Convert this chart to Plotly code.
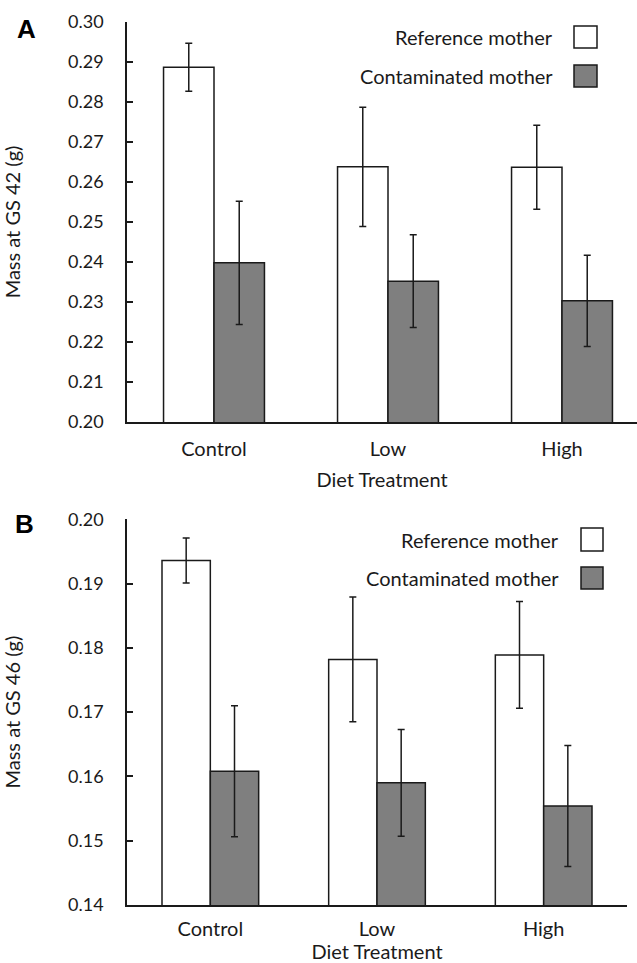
import plotly.graph_objects as go
from plotly.subplots import make_subplots

categories = ["Control", "Low", "High"]
series_names = ["Reference mother", "Contaminated mother"]

# Panel A: Mass at GS 42 (g)
a_ref = [0.2887, 0.2638, 0.2637]
a_ref_err = [0.0060, 0.0149, 0.0105]
a_con = [0.2398, 0.2352, 0.2303]
a_con_err = [0.0154, 0.0116, 0.0114]

# Panel B: Mass at GS 46 (g)
b_ref = [0.1936, 0.1782, 0.1789]
b_ref_err = [0.0035, 0.0097, 0.0083]
b_con = [0.1608, 0.1590, 0.1554]
b_con_err = [0.0102, 0.0083, 0.0094]

a_ticks = [0.20, 0.21, 0.22, 0.23, 0.24, 0.25, 0.26, 0.27, 0.28, 0.29, 0.30]
b_ticks = [0.14, 0.15, 0.16, 0.17, 0.18, 0.19, 0.20]

FONT = "Lato"
FS = 20
TFS = 18
INK = "#1a1a1a"
GREY = "#7f7f7f"

fig = make_subplots(rows=2, cols=1, vertical_spacing=0.0)

def add_panel(row, ref, ref_err, con, con_err):
    for name, vals, errs, fill in [
        (series_names[0], ref, ref_err, "white"),
        (series_names[1], con, con_err, GREY),
    ]:
        fig.add_trace(go.Bar(
            x=categories, y=vals, name=name, showlegend=False,
            marker=dict(color=fill, line=dict(color=INK, width=1.5)),
            error_y=dict(type="data", array=errs, visible=True,
                         color=INK, thickness=1.5, width=3.5),
        ), row=row, col=1)

add_panel(1, a_ref, a_ref_err, a_con, a_con_err)
add_panel(2, b_ref, b_ref_err, b_con, b_con_err)

W, H = 637, 963
L, R, T, B = 127, 0, 22, 58
PW = W - L - R
PH = H - T - B

yA = [(905 - 422) / PH, 1.0]
yB = [0.0, (905 - 519.3) / PH]

axis_common = dict(showline=True, linecolor=INK, linewidth=1.5, showgrid=False,
                   zeroline=False, mirror=False)

fig.update_layout(
    width=W, height=H,
    margin=dict(l=L, r=R, t=T, b=B),
    plot_bgcolor="white", paper_bgcolor="white",
    barmode="group", bargap=0.42, bargroupgap=0.0,
    font=dict(family=FONT, size=FS, color=INK),
    showlegend=False,
    xaxis=dict(domain=[0, 1], range=[-0.5, -0.5 + PW / 174.0], ticks="",
               ticklabelstandoff=8, tickfont=dict(size=FS),
               title=dict(text="Diet Treatment", standoff=14, font=dict(size=FS)),
               **axis_common),
    xaxis2=dict(domain=[0, 500 / PW], range=[-0.5, 2.5], ticks="",
                ticklabelstandoff=5, tickfont=dict(size=FS),
                title=dict(text="Diet Treatment", standoff=6, font=dict(size=FS)),
                **axis_common),
    yaxis=dict(domain=yA, range=[0.20, 0.30], tickvals=a_ticks,
               ticktext=[f"{v:.2f}" for v in a_ticks],
               ticks="inside", ticklen=6, tickwidth=1.5, tickcolor=INK,
               ticklabelstandoff=18, tickfont=dict(size=TFS),
               title=dict(text="Mass at GS 42 (g)", standoff=42, font=dict(size=FS)),
               **axis_common),
    yaxis2=dict(domain=yB, range=[0.14, 0.20], tickvals=b_ticks,
                ticktext=[f"{v:.2f}" for v in b_ticks],
                ticks="inside", ticklen=6, tickwidth=1.5, tickcolor=INK,
                ticklabelstandoff=18, tickfont=dict(size=TFS),
                title=dict(text="Mass at GS 46 (g)", standoff=42, font=dict(size=FS)),
                **axis_common),
)

def px_x(x):
    return (x - L) / PW

def px_y(y):
    return (H - B - y) / PH

annotations = []
shapes = []

# Panel letters
annotations.append(dict(text="<b>A</b>", x=px_x(26), y=px_y(29), xref="paper", yref="paper",
                        showarrow=False, xanchor="center", yanchor="middle",
                        font=dict(family="Liberation Sans", size=26, color="black")))
annotations.append(dict(text="<b>B</b>", x=px_x(24), y=px_y(524), xref="paper", yref="paper",
                        showarrow=False, xanchor="center", yanchor="middle",
                        font=dict(family="Liberation Sans", size=26, color="black")))

# Legends (text left, swatch right)
legend_specs = [
    (555, [37, 76], 574, 597, [(26, 48), (65, 87)]),
    (561, [539.5, 578], 581, 603, [(528, 551), (567, 589)]),
]
fills = ["white", GREY]
for tx, tys, bx0, bx1, boxes in legend_specs:
    for i in range(2):
        annotations.append(dict(text=series_names[i], x=px_x(tx), y=px_y(tys[i]),
                                xref="paper", yref="paper", showarrow=False,
                                xanchor="right", yanchor="middle",
                                font=dict(family=FONT, size=FS, color=INK)))
        y0, y1 = boxes[i]
        shapes.append(dict(type="rect", xref="paper", yref="paper",
                           x0=px_x(bx0), x1=px_x(bx1), y0=px_y(y1), y1=px_y(y0),
                           fillcolor=fills[i], line=dict(color=INK, width=1.5)))

fig.update_layout(annotations=annotations, shapes=shapes)

fig.write_html("out.html")
